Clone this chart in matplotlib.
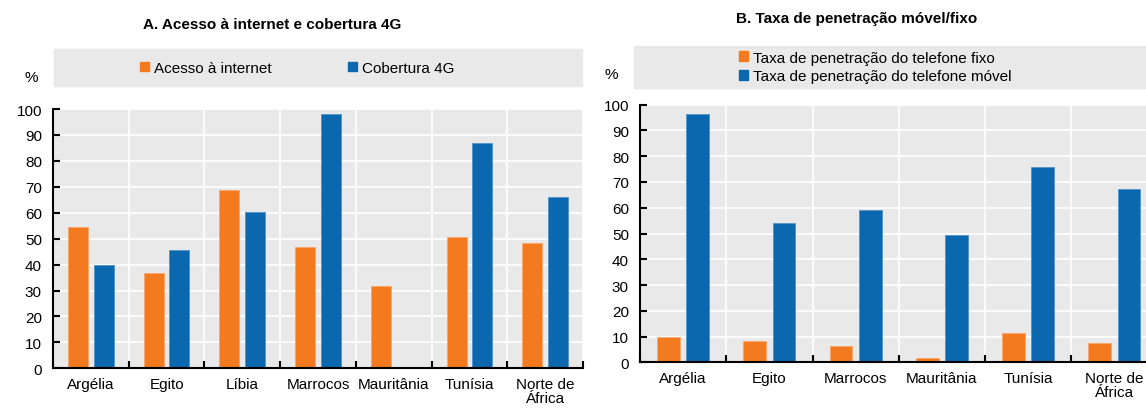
import numpy as np
import matplotlib
matplotlib.use("Agg")
import matplotlib.pyplot as plt
from matplotlib.patches import Patch, Rectangle

plt.rcParams["font.family"] = ["Liberation Sans Narrow", "Liberation Sans", "DejaVu Sans"]
FS = 11
plt.rcParams["font.size"] = FS

ORANGE = "#F47A20"
BLUE = "#0C68AE"
GREY = "#E9E9E9"

# Panel A
paises_a = ["Argélia", "Egito", "Líbia", "Marrocos", "Mauritânia", "Tunísia", "Norte de\nÁfrica"]
acesso_internet = [54.5, 36.6, 68.6, 46.9, 31.9, 50.5, 48.2]
cobertura_4g = [39.7, 45.6, 60.3, 97.9, np.nan, 86.9, 66.1]

# Panel B
paises_b = ["Argélia", "Egito", "Marrocos", "Mauritânia", "Tunísia", "Norte de\nÁfrica"]
telefone_fixo = [9.9, 8.1, 6.3, 1.5, 11.3, 7.5]
telefone_movel = [96.5, 53.9, 59.1, 49.6, 76.0, 67.1]

W, H = 1146, 410
fig = plt.figure(figsize=(W / 100, H / 100), dpi=100)


def px(x0, y0, x1, y1):
    # pixel box -> figure fraction [left, bottom, width, height]
    return [x0 / W, 1 - y1 / H, (x1 - x0) / W, (y1 - y0) / H]


def panel(ax, labels, s1, s2):
    n = len(labels)
    x = np.arange(n)
    bw, off = 0.265, 0.17
    ax.bar(x - off, s1, bw, color=ORANGE, edgecolor="#F9A66A", linewidth=0.6, zorder=3)
    ax.bar(x + off, s2, bw, color=BLUE, edgecolor="#4F93C8", linewidth=0.6, zorder=3)
    ax.set_facecolor(GREY)
    ax.set_xlim(-0.5, n - 0.5)
    ax.set_ylim(0, 100)
    ax.set_yticks(np.arange(0, 101, 10))
    ax.set_xticks(x)
    ax.set_xticklabels(labels, linespacing=1.05)
    ax.set_xticks(np.arange(n + 1) - 0.5, minor=True)
    ax.tick_params(axis="x", which="major", length=0, pad=6, labelsize=FS)
    ax.tick_params(axis="x", which="minor", direction="in", length=5, width=1.5)
    ax.tick_params(axis="y", direction="in", length=5, width=1.5, pad=8, labelsize=FS)
    ax.grid(axis="y", color="white", linewidth=1.2, zorder=0)
    ax.grid(axis="x", which="minor", color="white", linewidth=1.2, zorder=0)
    for s in ("top", "right"):
        ax.spines[s].set_visible(False)
    for s in ("left", "bottom"):
        ax.spines[s].set_linewidth(1.5)
        ax.spines[s].set_zorder(4)
    ax.set_axisbelow(True)


ax1 = fig.add_axes(px(53, 110, 583, 369.3))
panel(ax1, paises_a, acesso_internet, cobertura_4g)
ax2 = fig.add_axes(px(640, 105.7, 1157.5, 363.3))
panel(ax2, paises_b, telefone_fixo, telefone_movel)

# titles and unit labels
fig.text(272 / W, 1 - 25 / H, "A. Acesso à internet e cobertura 4G",
         ha="center", va="center", fontweight="bold", fontsize=FS)
fig.text(857 / W, 1 - 18.5 / H, "B. Taxa de penetração móvel/fixo",
         ha="center", va="center", fontweight="bold", fontsize=FS)
fig.text(31 / W, 1 - 78 / H, "%", ha="center", va="center", fontsize=FS)
fig.text(611 / W, 1 - 75 / H, "%", ha="center", va="center", fontsize=FS)

# grey legend bands
fig.add_artist(Rectangle((54 / W, 1 - 86.7 / H), (582 - 54) / W, 36.7 / H,
                         transform=fig.transFigure, color=GREY, zorder=0))
fig.add_artist(Rectangle((634 / W, 1 - 89 / H), (1160 - 634) / W, 42 / H,
                         transform=fig.transFigure, color=GREY, zorder=0))

kw = dict(frameon=False, handlelength=0.6, handleheight=0.6, handletextpad=0.3,
          borderpad=0, borderaxespad=0, fontsize=FS, bbox_transform=fig.transFigure)
fig.legend([Patch(color=ORANGE), Patch(color=BLUE)],
           ["Acesso à internet", "Cobertura 4G"], ncol=2, columnspacing=5.0,
           loc="center left", bbox_to_anchor=(140 / W, 1 - 69 / H), **kw)
fig.legend([Patch(color=ORANGE), Patch(color=BLUE)],
           ["Taxa de penetração do telefone fixo", "Taxa de penetração do telefone móvel"],
           ncol=1, labelspacing=0.3, loc="center left",
           bbox_to_anchor=(739 / W, 1 - 68 / H), **kw)

fig.savefig("out.png", dpi=100)
